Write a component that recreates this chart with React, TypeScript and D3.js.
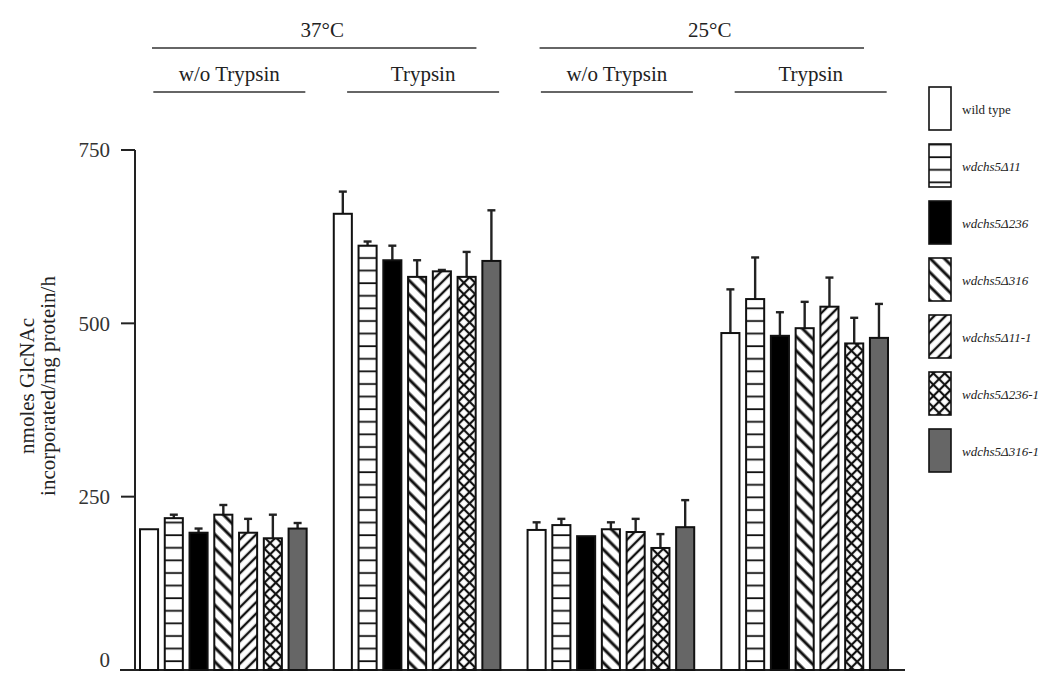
import * as d3 from 'd3'
import React from 'react'

const strains = ['wild type', 'wdchs5Δ11', 'wdchs5Δ236', 'wdchs5Δ316', 'wdchs5Δ11-1', 'wdchs5Δ236-1', 'wdchs5Δ316-1']
const conditions = ['37 w/o', '37 T', '25 w/o', '25 T']
const temperatures = ['37°C', '25°C']
const subLabels = ['w/o Trypsin', 'Trypsin', 'w/o Trypsin', 'Trypsin']

// mean values per condition, strains in order
const means = [
  [203, 219, 198, 224, 198, 190, 204],
  [658, 612, 591, 567, 575, 567, 590],
  [202, 209, 193, 203, 199, 176, 206],
  [486, 535, 482, 493, 524, 471, 479]
]
const errors = [
  [0, 5, 6, 14, 20, 34, 8],
  [32, 6, 21, 24, 2, 36, 73],
  [11, 9, 0, 10, 19, 20, 39],
  [63, 60, 34, 38, 42, 37, 49]
]
const yTicks = [0, 250, 500, 750]

const fills = ['#fff', 'url(#hlines)', '#000', 'url(#diagA)', 'url(#diagB)', 'url(#cross)', '#666']

const serif = '"Liberation Serif", "DejaVu Serif", serif'

export default function App () {
  const width = 1064
  const height = 675
  const y = d3.scaleLinear().domain([0, 750]).range([670, 150])
  const xGroup = d3.scaleBand().domain(conditions).range([140, 888]).paddingInner(0.14)
  const xBar = d3.scaleBand().domain(strains).range([0, xGroup.bandwidth()]).paddingInner(0.27)
  const bw = xBar.bandwidth()
  const ink = '#111'

  const legendY = d3.scaleBand().domain(strains).range([87, 87 + 57 * 7])

  return (
    <svg width={width} height={height} style={{ display: 'block', position: 'absolute', left: 0, top: 0 }}>
      <defs>
        <pattern id='hlines' width='8' height='12.6' patternUnits='userSpaceOnUse'>
          <rect width='8' height='12.6' fill='#fff' />
          <line x1='0' y1='6' x2='8' y2='6' stroke={ink} strokeWidth='1.8' />
        </pattern>
        <pattern id='diagA' width='10' height='10' patternUnits='userSpaceOnUse' patternTransform='rotate(45)'>
          <rect width='10' height='10' fill='#fff' />
          <line x1='0' y1='5' x2='10' y2='5' stroke={ink} strokeWidth='3' />
        </pattern>
        <pattern id='diagB' width='8' height='8' patternUnits='userSpaceOnUse' patternTransform='rotate(-45)'>
          <rect width='8' height='8' fill='#fff' />
          <line x1='0' y1='4' x2='8' y2='4' stroke={ink} strokeWidth='2.4' />
        </pattern>
        <pattern id='cross' width='8' height='8' patternUnits='userSpaceOnUse' patternTransform='rotate(45)'>
          <rect width='8' height='8' fill='#fff' />
          <line x1='0' y1='4' x2='8' y2='4' stroke={ink} strokeWidth='2.2' />
          <line x1='4' y1='0' x2='4' y2='8' stroke={ink} strokeWidth='2.2' />
        </pattern>
      </defs>

      {/* y label */}
      <g fontFamily={serif} fontSize='21' fill='#222' textAnchor='middle'>
        <text transform='translate(34,386) rotate(-90)'>nmoles GlcNAc</text>
        <text transform='translate(55,386) rotate(-90)'>incorporated/mg protein/h</text>
      </g>

      {/* y axis */}
      <line x1={135} x2={135} y1={y(750)} y2={y(0)} stroke='#222' strokeWidth='2' />
      {yTicks.map(t => (
        <g key={t}>
          <line x1={121} x2={135} y1={y(t)} y2={y(t)} stroke='#222' strokeWidth='2' />
          <text x={110} y={t === 0 ? y(t) - 10 : y(t)} dy='0.35em' textAnchor='end' fontFamily={serif} fontSize='21' fill='#333'>{t}</text>
        </g>
      ))}
      <line x1={120} x2={905} y1={y(0)} y2={y(0)} stroke='#222' strokeWidth='2' />

      {/* bars */}
      {conditions.map((c, gi) => (
        <g key={c} transform={`translate(${xGroup(c)},0)`}>
          {strains.map((s, si) => {
            const x0 = xBar(s) as number
            const v = means[gi][si]
            const e = errors[gi][si]
            const cx = x0 + bw / 2
            return (
              <g key={s}>
                {e > 0 && (
                  <g stroke='#222' strokeWidth='2.4'>
                    <line x1={cx} x2={cx} y1={y(v)} y2={y(v + e)} />
                    <line x1={cx - 4} x2={cx + 4} y1={y(v + e)} y2={y(v + e)} />
                  </g>
                )}
                <rect x={x0} y={y(v)} width={bw} height={y(0) - y(v)} fill={fills[si]} stroke={ink} strokeWidth='2' />
              </g>
            )
          })}
        </g>
      ))}

      {/* headers */}
      <g fontFamily={serif} fill='#222' textAnchor='middle'>
        {temperatures.map((t, i) => {
          const a = xGroup(conditions[i * 2]) as number
          const b = (xGroup(conditions[i * 2 + 1]) as number) + xGroup.bandwidth()
          return (
            <g key={t}>
              <text x={(a + b) / 2 + 2} y={37} fontSize='21'>{t}</text>
              <line x1={a + 12} x2={b - 24} y1={48} y2={48} stroke='#333' strokeWidth='1.6' />
            </g>
          )
        })}
        {conditions.map((c, i) => {
          const a = xGroup(c) as number
          const m = a + xGroup.bandwidth() / 2 + 6
          return (
            <g key={c}>
              <text x={m} y={81} fontSize='21'>{subLabels[i]}</text>
              <line x1={m - 76} x2={m + 76} y1={92} y2={92} stroke='#333' strokeWidth='1.6' />
            </g>
          )
        })}
      </g>

      {/* legend */}
      {strains.map((s, si) => {
        const ly = legendY(s) as number
        return (
          <g key={s}>
            <rect x={929} y={ly} width={22} height={43} fill={fills[si]} stroke={ink} strokeWidth='1.6' />
            <text x={962} y={ly + 22} dy='0.35em' fontFamily={serif} fontSize='13' fill='#222' fontStyle={si === 0 ? 'normal' : 'italic'}>{s}</text>
          </g>
        )
      })}
    </svg>
  )
}
